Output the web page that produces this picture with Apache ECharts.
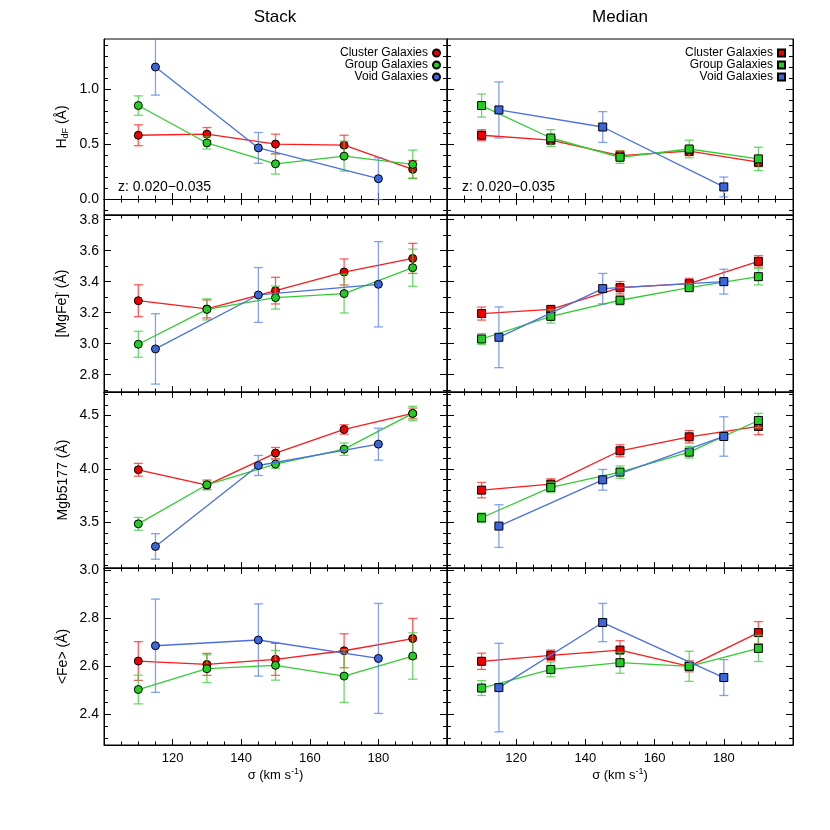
<!DOCTYPE html>
<html>
<head>
<meta charset="utf-8">
<script src="https://cdn.jsdelivr.net/npm/echarts@6/dist/echarts.min.js"></script>
<style>
  html, body { margin: 0; padding: 0; background: #fff; }
  #chart { width: 830px; height: 830px; }
</style>
</head>
<body>
<div id="chart"></div>
<script>
// sigma bins (km/s)
const sigmaCG = [110, 130, 150, 170, 190];
const sigmaVoid = [115, 145, 180];

// H_dF
const hdfStackCluster = [0.58, 0.59, 0.50, 0.49, 0.27];
const hdfStackClusterErr = [0.095, 0.06, 0.09, 0.09, 0.08];
const hdfStackGroup = [0.85, 0.51, 0.32, 0.39, 0.315];
const hdfStackGroupErr = [0.088, 0.055, 0.093, 0.136, 0.13];
const hdfStackVoid = [1.20, 0.465, 0.185];
const hdfStackVoidErr = [0.255, 0.14, 0.19];
const hdfMedianCluster = [0.58, 0.535, 0.395, 0.435, 0.335];
const hdfMedianClusterErr = [0.05, 0.03, 0.045, 0.04, 0.04];
const hdfMedianGroup = [0.85, 0.555, 0.38, 0.455, 0.365];
const hdfMedianGroupErr = [0.105, 0.076, 0.056, 0.08, 0.106];
const hdfMedianVoid = [0.81, 0.655, 0.11];
const hdfMedianVoidErr = [0.255, 0.14, 0.09];

// [MgFe]'
const mgfeStackCluster = [3.277, 3.224, 3.342, 3.462, 3.55];
const mgfeStackClusterErr = [0.103, 0.058, 0.086, 0.084, 0.097];
const mgfeStackGroup = [2.996, 3.221, 3.297, 3.323, 3.49];
const mgfeStackGroupErr = [0.084, 0.068, 0.074, 0.125, 0.12];
const mgfeStackVoid = [2.966, 3.314, 3.383];
const mgfeStackVoidErr = [0.227, 0.177, 0.275];
const mgfeMedianCluster = [3.194, 3.221, 3.361, 3.387, 3.531];
const mgfeMedianClusterErr = [0.042, 0.02, 0.04, 0.035, 0.037];
const mgfeMedianGroup = [3.03, 3.176, 3.28, 3.361, 3.432];
const mgfeMedianGroupErr = [0.035, 0.043, 0.03, 0.02, 0.053];
const mgfeMedianVoid = [3.041, 3.355, 3.40];
const mgfeMedianVoidErr = [0.196, 0.098, 0.08];

// Mgb5177
const mgbStackCluster = [3.991, 3.847, 4.147, 4.369, 4.519];
const mgbStackClusterErr = [0.06, 0.04, 0.053, 0.044, 0.05];
const mgbStackGroup = [3.484, 3.85, 4.044, 4.184, 4.519];
const mgbStackGroupErr = [0.06, 0.047, 0.04, 0.058, 0.067];
const mgbStackVoid = [3.272, 4.031, 4.231];
const mgbStackVoidErr = [0.12, 0.094, 0.15];
const mgbMedianCluster = [3.80, 3.856, 4.169, 4.30, 4.397];
const mgbMedianClusterErr = [0.072, 0.05, 0.056, 0.058, 0.077];
const mgbMedianGroup = [3.541, 3.825, 3.969, 4.156, 4.453];
const mgbMedianGroupErr = [0.045, 0.045, 0.058, 0.055, 0.067];
const mgbMedianVoid = [3.463, 3.897, 4.303];
const mgbMedianVoidErr = [0.2, 0.097, 0.185];

// <Fe>
const feStackCluster = [2.621, 2.607, 2.628, 2.664, 2.715];
const feStackClusterErr = [0.081, 0.046, 0.067, 0.071, 0.084];
const feStackGroup = [2.502, 2.589, 2.603, 2.558, 2.642];
const feStackGroupErr = [0.06, 0.058, 0.062, 0.11, 0.097];
const feStackVoid = [2.685, 2.709, 2.632];
const feStackVoidErr = [0.195, 0.151, 0.23];
const feMedianCluster = [2.62, 2.645, 2.667, 2.599, 2.74];
const feMedianClusterErr = [0.034, 0.022, 0.039, 0.023, 0.046];
const feMedianGroup = [2.508, 2.586, 2.614, 2.599, 2.674];
const feMedianGroupErr = [0.031, 0.031, 0.044, 0.063, 0.055];
const feMedianVoid = [2.51, 2.782, 2.552];
const feMedianVoidErr = [0.185, 0.08, 0.075];

// tick labels
const hdfTicks = [0.0, 0.5, 1.0];
const hdfMinor = [-0.1, 0.1, 0.2, 0.3, 0.4, 0.6, 0.7, 0.8, 0.9, 1.1, 1.2, 1.3, 1.4];
const mgfeTicks = [2.8, 3.0, 3.2, 3.4, 3.6, 3.8];
const mgfeMinor = [2.7, 2.9, 3.1, 3.3, 3.5, 3.7];
const mgbTicks = [3.5, 4.0, 4.5];
const mgbMinor = [3.1, 3.2, 3.3, 3.4, 3.6, 3.7, 3.8, 3.9, 4.1, 4.2, 4.3, 4.4, 4.6, 4.7];
const feTicks = [2.4, 2.6, 2.8, 3.0];
const feMinor = [2.3, 2.35, 2.45, 2.5, 2.55, 2.65, 2.7, 2.75, 2.85, 2.9, 2.95];

const groupNames = ["Cluster Galaxies", "Group Galaxies", "Void Galaxies"];
const colTitles = ["Stack", "Median"];

const FONT = "'Liberation Sans', Arial, Helvetica, sans-serif";
const lineColors = ["#ff1a1a", "#33cc33", "#4a70e0"];
const fillColors = ["#ee0000", "#22cc22", "#3c66dd"];
const errColors = ["rgba(255,40,40,0.75)", "rgba(60,205,60,0.75)", "rgba(90,130,235,0.75)"];

const panels = [
  {
    name: "{t|H}{s|dF}{t| (Å)}", min: -0.145, max: 1.455, ticks: hdfTicks, minor: hdfMinor, fmt: (v) => v.toFixed(1),
    data: [
      [[hdfStackCluster, hdfStackClusterErr], [hdfStackGroup, hdfStackGroupErr], [hdfStackVoid, hdfStackVoidErr]],
      [[hdfMedianCluster, hdfMedianClusterErr], [hdfMedianGroup, hdfMedianGroupErr], [hdfMedianVoid, hdfMedianVoidErr]]
    ]
  },
  {
    name: "{t|[MgFe]}{p|'}{t| (Å)}", min: 2.688, max: 3.83, ticks: mgfeTicks, minor: mgfeMinor, fmt: (v) => v.toFixed(1),
    data: [
      [[mgfeStackCluster, mgfeStackClusterErr], [mgfeStackGroup, mgfeStackGroupErr], [mgfeStackVoid, mgfeStackVoidErr]],
      [[mgfeMedianCluster, mgfeMedianClusterErr], [mgfeMedianGroup, mgfeMedianGroupErr], [mgfeMedianVoid, mgfeMedianVoidErr]]
    ]
  },
  {
    name: "{t|Mgb5177 (Å)}", min: 3.07, max: 4.72, ticks: mgbTicks, minor: mgbMinor, fmt: (v) => v.toFixed(1),
    data: [
      [[mgbStackCluster, mgbStackClusterErr], [mgbStackGroup, mgbStackGroupErr], [mgbStackVoid, mgbStackVoidErr]],
      [[mgbMedianCluster, mgbMedianClusterErr], [mgbMedianGroup, mgbMedianGroupErr], [mgbMedianVoid, mgbMedianVoidErr]]
    ]
  },
  {
    name: "{t|<Fe> (Å)}", min: 2.27, max: 3.01, ticks: feTicks, minor: feMinor, fmt: (v) => v.toFixed(1),
    data: [
      [[feStackCluster, feStackClusterErr], [feStackGroup, feStackGroupErr], [feStackVoid, feStackVoidErr]],
      [[feMedianCluster, feMedianClusterErr], [feMedianGroup, feMedianGroupErr], [feMedianVoid, feMedianVoidErr]]
    ]
  }
];

const rowTop = [39, 215, 392, 568];
const rowBottom = [215, 392, 568, 745];
const colLeft = [104, 447];
const colWidth = [343, 346];

const grids = [];
const xAxes = [];
const yAxes = [];
const series = [];

const errRender = (color) => (params, api) => {
  const x = api.value(0);
  const lo = api.coord([x, api.value(1)]);
  const hi = api.coord([x, api.value(2)]);
  const w = 4.5;
  const style = { stroke: color, lineWidth: 1.3, fill: null };
  return {
    type: "group",
    children: [
      { type: "line", shape: { x1: hi[0], y1: hi[1], x2: lo[0], y2: lo[1] }, style },
      { type: "line", shape: { x1: hi[0] - w, y1: hi[1], x2: hi[0] + w, y2: hi[1] }, style },
      { type: "line", shape: { x1: lo[0] - w, y1: lo[1], x2: lo[0] + w, y2: lo[1] }, style }
    ]
  };
};

panels.forEach((p, row) => {
  [0, 1].forEach((col) => {
    const gi = grids.length;
    grids.push({
      left: colLeft[col],
      top: rowTop[row],
      width: colWidth[col],
      height: rowBottom[row] - rowTop[row],
      show: true,
      borderColor: "#000",
      borderWidth: 1,
      backgroundColor: "transparent"
    });

    const xBase = {
      type: "value", gridIndex: gi, min: 100, max: 200, interval: 20,
      axisLine: { show: true, lineStyle: { color: "#000", width: 1 } },
      axisTick: { show: true, inside: true, length: 6, lineStyle: { color: "#000" } },
      minorTick: { show: true, splitNumber: 4, length: 3.5, lineStyle: { color: "#000" } },
      splitLine: { show: false },
      axisLabel: { show: false }
    };
    const xi = xAxes.length;
    xAxes.push(Object.assign({}, xBase, {
      position: "bottom",
      axisLabel: {
        show: row === 3, color: "#000", fontSize: 13, fontFamily: FONT, margin: 7,
        showMinLabel: false, showMaxLabel: false
      },
      name: row === 3 ? "σ (km s{s|-1})" : "",
      nameLocation: "middle",
      nameGap: 22,
      nameTextStyle: {
        color: "#000", fontSize: 13, fontFamily: FONT,
        rich: { s: { fontSize: 9, fontFamily: FONT, color: "#000", verticalAlign: "top", padding: [0, 0, 7, 0] } }
      }
    }));
    xAxes.push(Object.assign({}, xBase, { position: "top" }));

    const yi = yAxes.length;
    ["left", "right"].forEach((pos) => {
      const isMain = pos === "left";
      yAxes.push({
        type: "value", gridIndex: gi, position: pos, min: p.min, max: p.max,
        axisLine: { show: true, lineStyle: { color: "#000", width: 1 } },
        axisTick: { show: true, inside: true, length: 7, customValues: p.ticks, lineStyle: { color: "#000" } },
        splitLine: { show: false },
        axisLabel: {
          show: isMain && col === 0, customValues: p.ticks, formatter: p.fmt,
          color: "#000", fontSize: 14, fontFamily: FONT, margin: 5
        },
        name: isMain && col === 0 ? p.name : "",
        nameLocation: "middle",
        nameGap: 34,
        nameTextStyle: {
          color: "#000", fontFamily: FONT, fontSize: 14,
          rich: {
            t: { fontSize: 14, fontFamily: FONT, color: "#000" },
            s: { fontSize: 9, fontFamily: FONT, color: "#000", verticalAlign: "bottom", padding: [6, 0, 0, 0] },
            p: { fontSize: 9, fontFamily: FONT, color: "#000", verticalAlign: "top", padding: [0, 0, 6, 0] }
          }
        }
      });
      yAxes.push({
        type: "value", gridIndex: gi, position: pos, min: p.min, max: p.max,
        axisLine: { show: false },
        axisTick: { show: true, inside: true, length: 4, customValues: p.minor, lineStyle: { color: "#000" } },
        splitLine: { show: false },
        axisLabel: { show: false }
      });
    });

    p.data[col].forEach(([vals, errs], k) => {
      const xs = k === 2 ? sigmaVoid : sigmaCG;
      series.push({
        type: "custom",
        name: "err" + gi + "_" + k,
        xAxisIndex: xi, yAxisIndex: yi,
        clip: true,
        z: 2 + k * 2,
        silent: true,
        renderItem: errRender(errColors[k]),
        data: xs.map((x, i) => [x, vals[i] - errs[i], vals[i] + errs[i]]),
        encode: { x: 0, y: [1, 2] }
      });
      series.push({
        type: "line",
        name: groupNames[k],
        xAxisIndex: xi, yAxisIndex: yi,
        z: 3 + k * 2,
        symbol: col === 0 ? "circle" : "rect",
        symbolSize: 8,
        showAllSymbol: true,
        lineStyle: { color: lineColors[k], width: 1.3 },
        itemStyle: { color: fillColors[k], borderColor: "#000", borderWidth: 1 },
        emphasis: { disabled: true },
        animation: false,
        data: xs.map((x, i) => [x, vals[i]])
      });
    });
  });
});

const legendBase = {
  orient: "vertical",
  align: "right",
  top: 47,
  itemWidth: 7,
  itemHeight: 7,
  itemGap: 0,
  selectedMode: false,
  textStyle: { color: "#000", fontSize: 12, fontFamily: FONT, lineHeight: 11, padding: [0, 0, 0, 0] },
  padding: 0
};

const chart = echarts.init(document.getElementById("chart"), null, { renderer: "canvas" });
chart.setOption({
  backgroundColor: "#fff",
  animation: false,
  grid: grids,
  xAxis: xAxes,
  yAxis: yAxes,
  legend: [
    Object.assign({}, legendBase, { right: 389, data: groupNames.map((n) => ({ name: n, icon: "circle" })) }),
    Object.assign({}, legendBase, { right: 44, data: groupNames.map((n) => ({ name: n, icon: "rect" })) })
  ],
  graphic: [
    { type: "text", x: 275, y: 17, style: { text: colTitles[0], font: "17px " + FONT, fill: "#000", textAlign: "center", textVerticalAlign: "middle" } },
    { type: "text", x: 620, y: 17, style: { text: colTitles[1], font: "17px " + FONT, fill: "#000", textAlign: "center", textVerticalAlign: "middle" } },
    { type: "text", x: 118, y: 187, style: { text: "z: 0.020\u22120.035", font: "14px " + FONT, fill: "#000", textAlign: "left", textVerticalAlign: "middle" } },
    { type: "text", x: 462, y: 187, style: { text: "z: 0.020\u22120.035", font: "14px " + FONT, fill: "#000", textAlign: "left", textVerticalAlign: "middle" } }
  ],
  series: series
});
</script>
</body>
</html>
